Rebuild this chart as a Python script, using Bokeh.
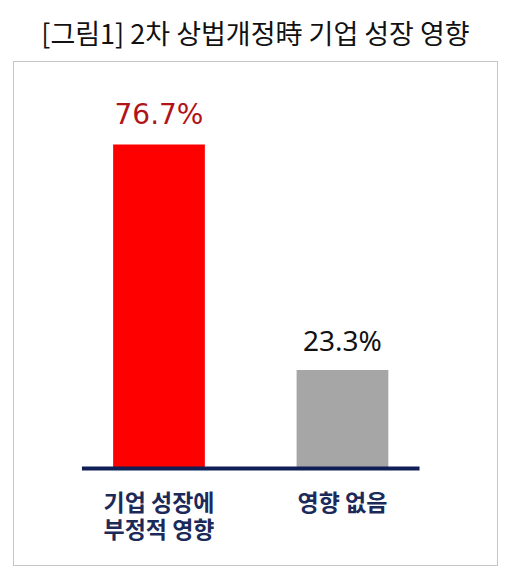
from bokeh.plotting import figure
from bokeh.models import Range1d, ColumnDataSource
from bokeh.core.properties import value
from bokeh.embed import file_html
from bokeh.resources import INLINE

title_text = "[그림1] 2차 상법개정時 기업 성장 영향"
categories = ["기업 성장에\n부정적 영향", "영향 없음"]
values = [76.7, 23.3]
value_labels = ["76.7%", "23.3%"]
bar_colors = ["#ff0000", "#a6a6a6"]
label_colors = ["#b01318", "#111111"]
label_fonts = ["DejaVu Sans", "Noto Sans"]

FONT = "Noto Sans CJK KR"
xs = list(range(len(categories)))

p = figure(width=504, height=569, output_backend="svg", toolbar_location=None,
           x_range=Range1d(-0.793, 1.845), y_range=Range1d(-22.96, 96.35),
           min_border_left=13, min_border_right=7, min_border_top=61, min_border_bottom=4)
p.title.text = title_text
p.title.align = "center"
p.title.text_font = FONT
p.title.text_font_size = "27px"
p.title.text_font_style = "normal"
p.title.text_color = "#111111"
p.title.standoff = 20
p.axis.visible = False
p.grid.visible = False
p.outline_line_color = "#8a8a8a"
p.outline_line_dash = "1 1"
p.outline_line_width = 1
p.background_fill_color = "white"
p.border_fill_color = "white"

src = ColumnDataSource(dict(x=xs, top=values, color=bar_colors, lab=value_labels,
                            lc=label_colors, font=label_fonts, cat=categories))
p.vbar(x="x", top="top", bottom=0, width=0.5, fill_color="color", line_color=None, source=src)

# baseline
p.segment(x0=[xs[0] - 0.42], x1=[xs[-1] + 0.42], y0=[0], y1=[0], line_color="#0f1f55", line_width=4)

p.text(x="x", y="top", text="lab", source=src, text_color="lc", text_font="font",
       text_font_size="28px", text_align="center", text_baseline="middle", y_offset=-30)

p.text(x="x", y=0, text="cat", source=src, text_color="#1c2a5a", text_font=value(FONT),
       text_font_size="23px", text_font_style="bold", text_align="center",
       text_baseline="top", y_offset=15, text_line_height=0.82)

open("out.html", "w").write(file_html(p, INLINE))
